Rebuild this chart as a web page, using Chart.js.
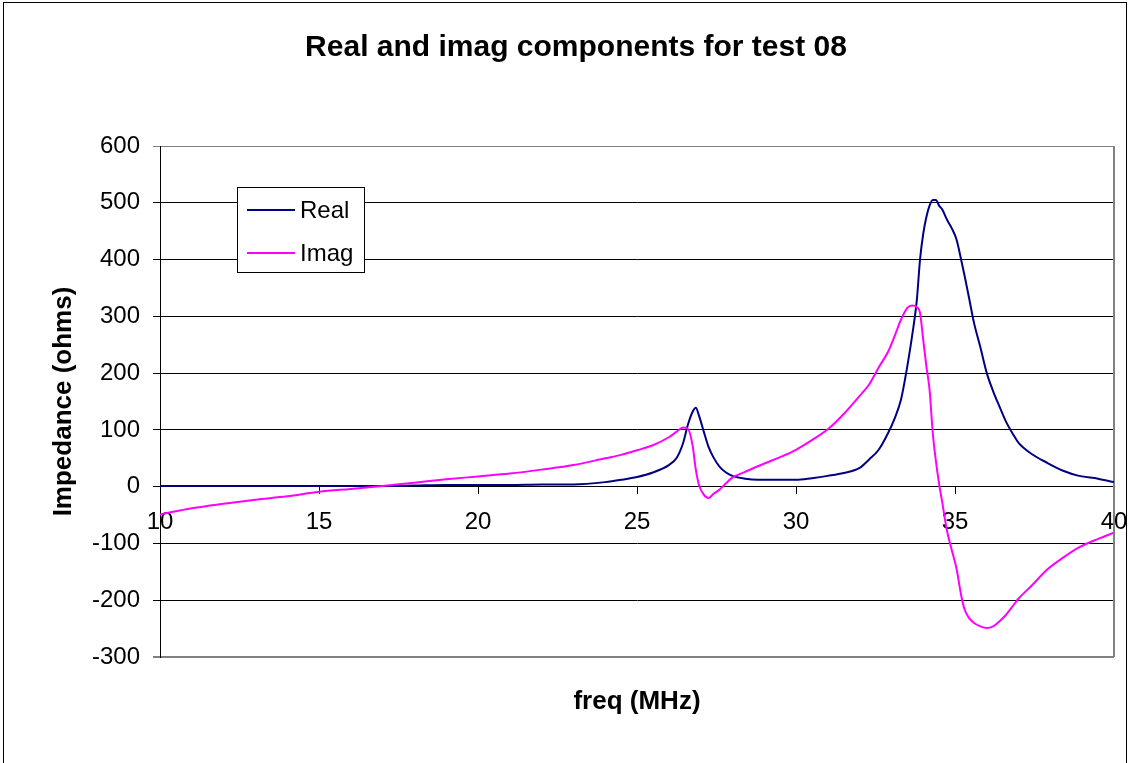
<!DOCTYPE html>
<html>
<head>
<meta charset="utf-8">
<title>Real and imag components for test 08</title>
<script src="https://cdn.jsdelivr.net/npm/chart.js@4.4.1/dist/chart.umd.min.js"></script>
<style>
  html, body { margin: 0; padding: 0; background: #fff; }
  #wrap { width: 1130px; height: 763px; }
</style>
</head>
<body>
<div id="wrap"><canvas id="chart" width="1130" height="763"></canvas></div>
<script>
// frequency points (MHz) and the two impedance components (ohms)
const freq = [
  10, 11, 12, 13, 14, 15, 16, 17, 18, 19, 20, 21, 22, 23, 24, 24.5, 25, 25.5, 26, 26.25,
  26.45, 26.6, 26.75, 26.85, 26.95, 27.1, 27.25, 27.4, 27.6, 27.8, 28, 28.4, 28.8, 29.5, 30,
  30.5, 31, 31.5, 32, 32.3, 32.6, 32.9, 33.1, 33.3, 33.5, 33.65, 33.8, 33.9, 34, 34.1, 34.2,
  34.3, 34.4, 34.5, 34.6, 34.75, 34.9, 35.05, 35.2, 35.3, 35.45, 35.6, 35.8, 36, 36.2, 36.4,
  36.6, 36.85, 37, 37.4, 37.9, 38.4, 38.9, 39.5, 40
];
const realZ = [
  1, 1, 1, 1, 1, 1, 1, 1, 2, 3, 3, 3, 4, 4, 8, 12, 17, 25, 38, 51,
  77, 109, 132, 139, 125, 97, 70, 52, 35, 25, 19, 14, 12, 12, 12,
  15, 19, 24, 33, 48, 65, 95, 120, 153, 212, 265, 329, 400, 445, 475, 495,
  505, 505, 495, 488, 470, 455, 435, 398, 372, 330, 288, 245, 200, 168, 141,
  115, 90, 77, 58, 42, 28, 19, 14, 8
];
const imagZ = [
  -49, -38, -30, -23, -17, -9, -4, 1, 7, 13, 18, 23, 30, 38, 50, 56, 64, 73, 87, 97,
  104, 102, 72, 30, 3, -14, -20, -13, -5, 6, 16, 26, 36, 52, 65,
  82, 101, 128, 160, 180, 210, 238, 265, 294, 315, 319, 316, 306, 259, 212, 171,
  95, 45, 5, -28, -78, -112, -145, -193, -216, -232, -240, -246, -249, -246, -237,
  -226, -208, -197, -175, -146, -125, -107, -92, -81
];
const xTickValues = [10, 15, 20, 25, 30, 35, 40];
const yTickValues = [-300, -200, -100, 0, 100, 200, 300, 400, 500, 600];

const FONT = '"Liberation Sans", Arial, sans-serif';

const toPoints = (vals) => freq.map((f, i) => ({ x: f, y: vals[i] }));

// outer frame, plot border, title, x-axis title and the boxed legend
const excelLook = {
  id: 'excelLook',
  beforeDraw(chart) {
    const ctx = chart.ctx;
    ctx.save();
    ctx.fillStyle = '#fff';
    ctx.fillRect(0, 0, chart.width, chart.height);
    ctx.strokeStyle = '#000';
    ctx.lineWidth = 1;
    ctx.strokeRect(3.5, 2.5, 1123, 800);
    ctx.restore();
  },
  beforeDatasetsDraw(chart) {
    const { ctx, chartArea: a } = chart;
    ctx.save();
    ctx.strokeStyle = '#808080';
    ctx.lineWidth = 2;
    ctx.beginPath();
    ctx.moveTo(a.right, a.top);
    ctx.lineTo(a.right, a.bottom);
    ctx.stroke();
    ctx.restore();
  },
  afterDraw(chart) {
    const { ctx, chartArea: a } = chart;
    ctx.save();
    ctx.fillStyle = '#000';
    ctx.textAlign = 'center';
    ctx.textBaseline = 'alphabetic';
    ctx.font = 'bold 30px ' + FONT;
    ctx.fillText('Real and imag components for test 08', 576, 56);
    ctx.font = 'bold 26px ' + FONT;
    ctx.textBaseline = 'middle';
    ctx.fillText('freq (MHz)', (a.left + a.right) / 2, 702);

    // legend box
    ctx.fillStyle = '#fff';
    ctx.fillRect(237, 187, 127, 85);
    ctx.strokeStyle = '#000';
    ctx.lineWidth = 1;
    ctx.strokeRect(237.5, 187.5, 127, 85);
    ctx.font = '24px ' + FONT;
    ctx.textAlign = 'left';
    chart.data.datasets.forEach((ds, i) => {
      const ly = 210 + i * 43;
      ctx.strokeStyle = ds.borderColor;
      ctx.lineWidth = 2;
      ctx.beginPath();
      ctx.moveTo(247, ly);
      ctx.lineTo(295, ly);
      ctx.stroke();
      ctx.fillStyle = '#000';
      ctx.fillText(ds.label, 300, ly + 1);
    });
    ctx.restore();
  }
};

const edge = (v) => v === 600 || v === -300;

new Chart(document.getElementById('chart').getContext('2d'), {
  type: 'line',
  data: {
    datasets: [
      {
        label: 'Real',
        data: toPoints(realZ),
        borderColor: '#000080',
        borderWidth: 2,
        pointRadius: 0,
        cubicInterpolationMode: 'monotone',
        fill: false,
        order: 1
      },
      {
        label: 'Imag',
        data: toPoints(imagZ),
        borderColor: '#FF00FF',
        borderWidth: 2,
        pointRadius: 0,
        cubicInterpolationMode: 'monotone',
        fill: false,
        order: 0
      }
    ]
  },
  options: {
    responsive: false,
    animation: false,
    devicePixelRatio: 1,
    layout: { padding: { top: 146, right: 16, bottom: 106, left: 0 } },
    plugins: {
      legend: { display: false },
      title: { display: false },
      tooltip: { enabled: false }
    },
    scales: {
      x: {
        type: 'linear',
        min: 10,
        max: 40,
        position: { y: 0 },
        afterBuildTicks: (s) => { s.ticks = xTickValues.map((v) => ({ value: v })); },
        afterFit: (s) => { s.paddingLeft = 0; s.paddingRight = 0; s.paddingTop = 0; s.paddingBottom = 0; },
        grid: { drawOnChartArea: false, drawTicks: true, tickLength: 7, color: '#000' },
        border: { color: '#000', width: 1 },
        ticks: { font: { size: 24, family: FONT }, color: '#000', padding: 14, maxRotation: 0, autoSkip: false }
      },
      y: {
        type: 'linear',
        min: -300,
        max: 600,
        afterBuildTicks: (s) => { s.ticks = yTickValues.map((v) => ({ value: v })); },
        afterFit: (s) => { s.width = 160; s.paddingLeft = 0; s.paddingRight = 0; s.paddingTop = 0; s.paddingBottom = 0; },
        grid: {
          color: (c) => (c.tick && edge(c.tick.value)) ? '#808080' : '#000',
          lineWidth: (c) => (c.tick && c.tick.value === -300) ? 2 : 1,
          tickLength: 7
        },
        border: { color: '#000', width: 1 },
        ticks: { font: { size: 24, family: FONT }, color: '#000', padding: 13 },
        title: {
          display: true,
          text: 'Impedance (ohms)',
          font: { size: 26, weight: 'bold', family: FONT },
          color: '#000',
          padding: { top: 48, bottom: 0 }
        }
      }
    }
  },
  plugins: [excelLook]
});
</script>
</body>
</html>
